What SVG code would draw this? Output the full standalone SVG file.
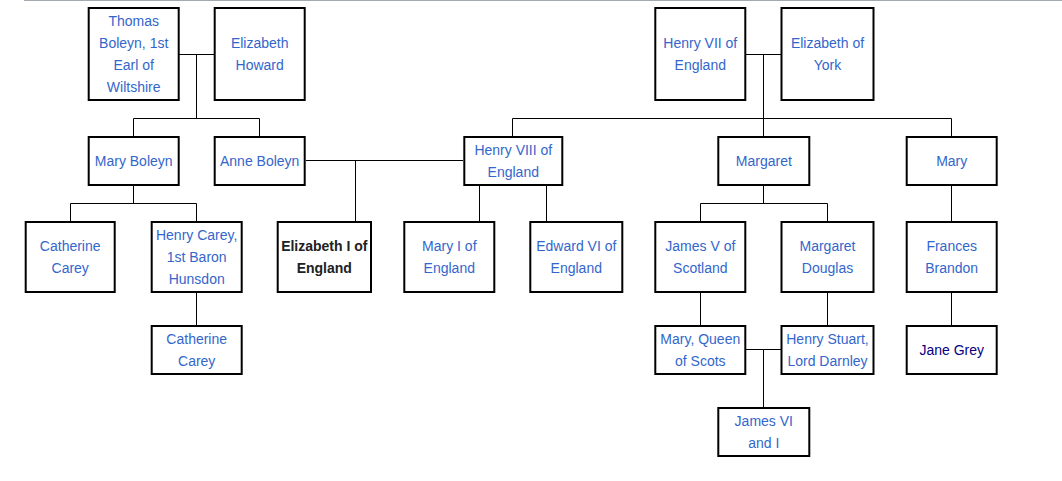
<svg xmlns="http://www.w3.org/2000/svg" width="1062" height="481" viewBox="0 0 1062 481">
<style>
.b{fill:#fff;stroke:#000;stroke-width:2}
.t{font-family:"Liberation Sans",Arial,sans-serif;font-size:14px;fill:#3366cc;text-anchor:middle}
.v{fill:#0b0080}
.k{fill:#202122;font-weight:bold}
.c{stroke:#000;stroke-width:1;fill:none}
</style>
<rect x="0" y="0" width="1062" height="481" fill="#fff"/>
<line x1="24" y1="0.5" x2="1062" y2="0.5" stroke="#a2a9b1" stroke-width="1"/>
<g id="connectors" class="c">
<path d="M179 54.5H214M196.5 54.5V118.5M133.5 118.5H259.5M133.5 118.5V136M259.5 118.5V136"/>
<path d="M306 160.5H463M355.5 160.5V221M479.5 186V221M546.5 186V221"/>
<path d="M133.5 186V203.5M70.5 203.5H196.5M70.5 203.5V221M196.5 203.5V221M196.5 293V325"/>
<path d="M746 54.5H781M763.5 54.5V118.5M512.5 118.5H951.5M512.5 118.5V136M763.5 118.5V136M951.5 118.5V136"/>
<path d="M763.5 186V203.5M700.5 203.5H827.5M700.5 203.5V221M827.5 203.5V221M700.5 293V325M827.5 293V325"/>
<path d="M746 349.5H781M763.5 349.5V407"/>
<path d="M951.5 186V221M951.5 293V325"/>
</g>
<g id="thomas-boleyn"><rect class="b" x="88.7" y="8" width="90" height="92"/><text class="t" x="133.7"><tspan x="133.7" y="26">Thomas</tspan><tspan x="133.7" y="48">Boleyn, 1st</tspan><tspan x="133.7" y="70">Earl of</tspan><tspan x="133.7" y="92">Wiltshire</tspan></text></g>
<g id="elizabeth-howard"><rect class="b" x="214.7" y="8" width="90" height="92"/><text class="t"><tspan x="259.7" y="48">Elizabeth</tspan><tspan x="259.7" y="70">Howard</tspan></text></g>
<g id="henry-vii"><rect class="b" x="655.3" y="8" width="90" height="92"/><text class="t"><tspan x="700.3" y="48">Henry VII of</tspan><tspan x="700.3" y="70">England</tspan></text></g>
<g id="elizabeth-of-york"><rect class="b" x="781.5" y="8" width="92" height="92"/><text class="t"><tspan x="827.5" y="48">Elizabeth of</tspan><tspan x="827.5" y="70">York</tspan></text></g>
<g id="mary-boleyn"><rect class="b" x="88.7" y="137" width="90" height="48"/><text class="t" x="133.7" y="166">Mary Boleyn</text></g>
<g id="anne-boleyn"><rect class="b" x="214.7" y="137" width="90" height="48"/><text class="t" x="259.7" y="166">Anne Boleyn</text></g>
<g id="henry-viii"><rect class="b" x="464.3" y="137" width="98" height="48"/><text class="t"><tspan x="513.3" y="155">Henry VIII of</tspan><tspan x="513.3" y="177">England</tspan></text></g>
<g id="margaret"><rect class="b" x="718.3" y="137" width="91" height="48"/><text class="t" x="763.8" y="166">Margaret</text></g>
<g id="mary"><rect class="b" x="906.7" y="137" width="90" height="48"/><text class="t" x="951.7" y="166">Mary</text></g>
<g id="catherine-carey-1"><rect class="b" x="25.7" y="222" width="89" height="70"/><text class="t"><tspan x="70.2" y="251">Catherine</tspan><tspan x="70.2" y="273">Carey</tspan></text></g>
<g id="henry-carey"><rect class="b" x="151.7" y="222" width="90" height="70"/><text class="t"><tspan x="196.7" y="240">Henry Carey,</tspan><tspan x="196.7" y="262">1st Baron</tspan><tspan x="196.7" y="284">Hunsdon</tspan></text></g>
<g id="elizabeth-i"><rect class="b" x="277.7" y="222" width="93.3" height="70"/><text class="t k"><tspan x="324.3" y="251">Elizabeth I of</tspan><tspan x="324.3" y="273">England</tspan></text></g>
<g id="mary-i"><rect class="b" x="404.3" y="222" width="90" height="70"/><text class="t"><tspan x="449.3" y="251">Mary I of</tspan><tspan x="449.3" y="273">England</tspan></text></g>
<g id="edward-vi"><rect class="b" x="530.3" y="222" width="92" height="70"/><text class="t"><tspan x="576.3" y="251">Edward VI of</tspan><tspan x="576.3" y="273">England</tspan></text></g>
<g id="james-v"><rect class="b" x="655.3" y="222" width="90" height="70"/><text class="t"><tspan x="700.3" y="251">James V of</tspan><tspan x="700.3" y="273">Scotland</tspan></text></g>
<g id="margaret-douglas"><rect class="b" x="781.5" y="222" width="92" height="70"/><text class="t"><tspan x="827.5" y="251">Margaret</tspan><tspan x="827.5" y="273">Douglas</tspan></text></g>
<g id="frances-brandon"><rect class="b" x="906.7" y="222" width="90" height="70"/><text class="t"><tspan x="951.7" y="251">Frances</tspan><tspan x="951.7" y="273">Brandon</tspan></text></g>
<g id="catherine-carey-2"><rect class="b" x="151.7" y="326" width="90" height="48"/><text class="t"><tspan x="196.7" y="344">Catherine</tspan><tspan x="196.7" y="366">Carey</tspan></text></g>
<g id="mary-queen-of-scots"><rect class="b" x="655.3" y="326" width="90" height="48"/><text class="t"><tspan x="700.3" y="344">Mary, Queen</tspan><tspan x="700.3" y="366">of Scots</tspan></text></g>
<g id="henry-stuart"><rect class="b" x="781.5" y="326" width="92" height="48"/><text class="t"><tspan x="827.5" y="344">Henry Stuart,</tspan><tspan x="827.5" y="366">Lord Darnley</tspan></text></g>
<g id="jane-grey"><rect class="b" x="906.7" y="326" width="90" height="48"/><text class="t v" x="951.7" y="355">Jane Grey</text></g>
<g id="james-vi"><rect class="b" x="718.3" y="408" width="91" height="48"/><text class="t"><tspan x="763.8" y="426">James VI</tspan><tspan x="763.8" y="448">and I</tspan></text></g>
</svg>
